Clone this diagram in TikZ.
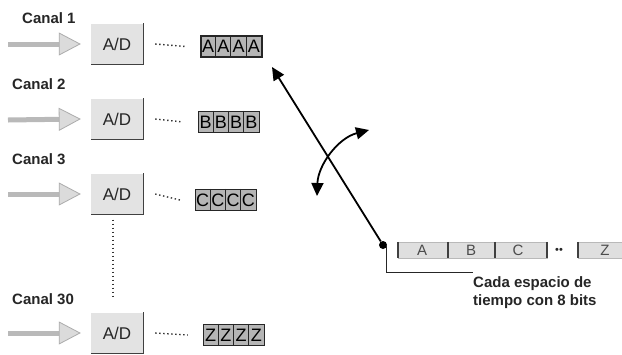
\documentclass[tikz,border=0pt]{standalone}
\usepackage{fontspec}
\setmainfont{Liberation Sans}
\usetikzlibrary{arrows.meta}
\begin{document}
\begin{tikzpicture}[x=1pt,y=-1pt,
  lbl/.style={font=\fontsize{15}{18}\selectfont\bfseries, anchor=west, inner sep=0pt, text=black!85},
  adbox/.style={fill=gray!22, minimum width=52pt, minimum height=41pt, inner sep=0pt,
    font=\fontsize{17}{19}\selectfont, text=black!85},
  adedge/.style={line width=1.3pt, draw=black!75},
  inarrow/.style={line width=5pt, draw=gray!55,
    -{Triangle[length=22pt,width=23pt,color=gray!65,fill=gray!28,line width=0.8pt]}},
  dotline/.style={line width=1.4pt, black!80, dash pattern=on 1.4pt off 2.6pt},
  fr/.style={fill=gray!58, draw=black!85, line width=1.2pt, minimum width=61pt,
    minimum height=21pt, inner sep=0pt},
  frl/.style={font=\fontsize{18}{20}\selectfont, inner sep=0pt, text=black},
  bigarrow/.style={line width=1.8pt, black, -{Triangle[length=13pt,width=12pt]}},
  curvearrow/.style={line width=1.8pt, black, {Triangle[length=13pt,width=12pt]}-{Triangle[length=13pt,width=12pt]}},
  slot/.style={fill=gray!25, draw=gray!55, line width=0.5pt, minimum height=16pt, inner sep=0pt},
  slotbar/.style={line width=2pt, draw=black!75},
  slotl/.style={font=\fontsize{15}{17}\selectfont, text=black!70, inner sep=0pt},
  note/.style={font=\fontsize{15}{18}\selectfont\bfseries, align=left, anchor=north west,
    inner sep=0pt, text=black!85}
]
\useasboundingbox (0,0) rectangle (622,354);
\fill[white] (0,0) rectangle (622,354);

% ---------- channels ----------
% Canal 1
\node[lbl] (l1) at (22,18) {Canal 1};
\node[adbox] (ad1) at (117,44) {A/D};
\coordinate (s1) at (8,44);
\node[fr] (f1) at (231.5,46.5) {};
% Canal 2
\node[lbl] (l2) at (12,84) {Canal 2};
\node[adbox] (ad2) at (117,119) {A/D};
\coordinate (s2) at (8,120);
\node[fr] (f2) at (229,122) {};
% Canal 3
\node[lbl] (l3) at (12,159) {Canal 3};
\node[adbox] (ad3) at (117,194) {A/D};
\coordinate (s3) at (8,194);
\node[fr] (f3) at (226,200) {};
% Canal 30
\node[lbl] (l30) at (12,299) {Canal 30};
\node[adbox] (ad4) at (117,333) {A/D};
\coordinate (s4) at (8,333);
\node[fr] (f4) at (234,335) {};

\foreach \k/\L in {1/A,2/B,3/C,4/Z}{
  \draw[inarrow] (s\k) -- ([xshift=-10pt]ad\k.west);
  \draw[adedge] (ad\k.north east) -- (ad\k.south east) -- (ad\k.south west);
  \draw[dotline] ([xshift=12pt]ad\k.east) -- ([xshift=-15pt]f\k.west);
  \foreach \i in {1,2,3}
    \draw[line width=1pt, black!85] ([xshift=\i*15.25pt]f\k.north west) -- ([xshift=\i*15.25pt]f\k.south west);
  \foreach \i in {0,1,2,3}
    \node[frl] at ([xshift={(\i+0.5)*15.25pt}]f\k.west) {\L};
}

% vertical dotted line
\coordinate (vend) at (113,298);
\draw[dotline] ([xshift=-4pt,yshift=-5pt]ad3.south) -- (vend);

% ---------- switch ----------
\node[circle, fill=black, inner sep=0pt, minimum size=8pt] (dot) at (383,245) {};
\coordinate (tip) at (272,67);
\draw[bigarrow] (dot) -- (tip);
\coordinate (cl) at (317,196);
\coordinate (cu) at (369,130);
\draw[curvearrow] (cl) .. controls (318,165) and (338,138) .. (cu);

% bracket
\coordinate (brk) at (473,272);
\draw[line width=1pt, black!85] ([xshift=-1pt]dot.east) |- (brk);

% ---------- output frame ----------
\node[slot, minimum width=50pt] (sa) at (423,250) {};
\node[slot, minimum width=47pt] (sb) at (471.5,250) {};
\node[slot, minimum width=52pt] (sc) at (521,250) {};
\node[slot, minimum width=44pt] (sz) at (600,250) {};
\foreach \s in {sa,sb,sc,sz}
  \draw[slotbar] (\s.north west) -- (\s.south west);
\draw[slotbar] (sc.north east) -- (sc.south east);
\node[slotl] at (422,250) {A};
\node[slotl] at (471,250) {B};
\node[slotl] at (518,250) {C};
\node[slotl] at (605,250) {Z};
\node[font=\fontsize{11}{12}\selectfont, inner sep=0pt, text=black!85] (dd) at (559,251) {••};

\node[note] (txt) at (473,276) {Cada espacio de\\tiempo con 8 bits};
\end{tikzpicture}
\end{document}
